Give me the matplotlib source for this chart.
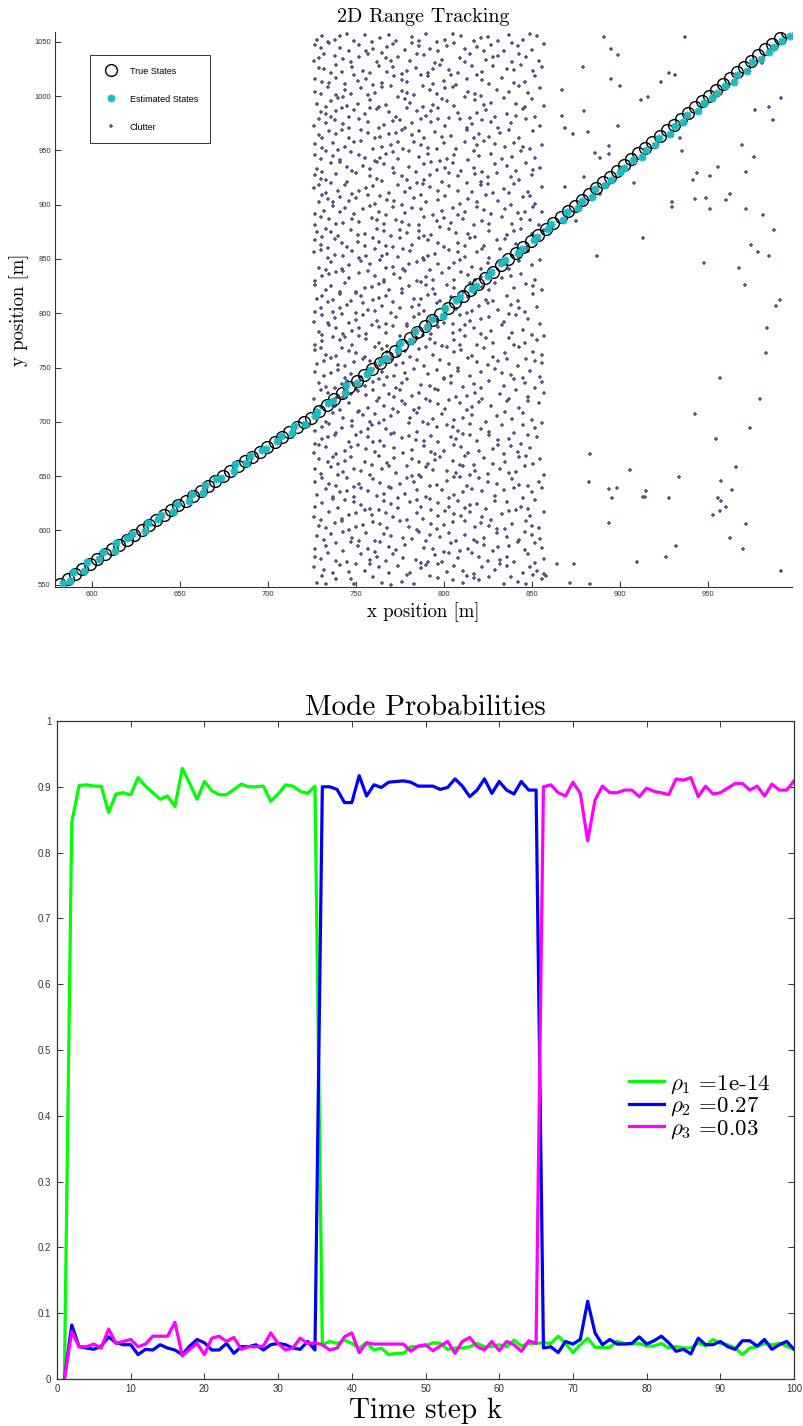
import numpy as np
import matplotlib.pyplot as plt
from matplotlib.ticker import MultipleLocator

# Estilo general
plt.rcParams['font.family'] = 'Liberation Sans'
plt.rcParams['mathtext.fontset'] = 'cm'
plt.rcParams['axes.unicode_minus'] = False
SERIF = 'cmr10'

# ---- datos: seguimiento 2D (x, y en metros) ----
true_pts = [
    (582.0, 551.0), (586.2, 555.5), (590.4, 560.0), (594.6, 564.5), (598.8, 569.0),
    (603.0, 573.5), (607.2, 578.0), (611.4, 582.5), (615.6, 587.0), (619.8, 591.5),
    (624.0, 596.0), (628.2, 600.5), (632.4, 605.0), (636.6, 609.5), (640.8, 614.0),
    (645.0, 618.5), (649.2, 623.0), (653.4, 627.5), (657.6, 632.0), (661.8, 636.5),
    (666.0, 641.0), (670.2, 645.5), (674.4, 650.0), (678.6, 654.5), (682.8, 659.0),
    (687.0, 663.5), (691.2, 668.0), (695.4, 672.5), (699.6, 677.0), (703.8, 681.5),
    (708.0, 686.0), (712.2, 690.5), (716.4, 695.0), (720.6, 699.5), (724.8, 704.0),
    (729.1, 709.6), (733.4, 715.2), (737.7, 720.8), (742.0, 726.4), (746.3, 732.0),
    (750.6, 737.6), (754.9, 743.2), (759.2, 748.8), (763.5, 754.4), (767.8, 760.0),
    (772.1, 765.6), (776.4, 771.2), (780.7, 776.8), (785.0, 782.4), (789.3, 788.0),
    (793.6, 793.6), (797.9, 799.2), (802.2, 804.8), (806.5, 810.4), (810.8, 816.0),
    (815.1, 821.6), (819.4, 827.2), (823.7, 832.8), (828.0, 838.4), (832.3, 844.0),
    (836.6, 849.6), (840.9, 855.2), (845.2, 860.8), (849.5, 866.4), (853.8, 872.0),
    (858.1, 877.6), (862.4, 883.2), (866.4, 888.5), (870.5, 893.9), (874.5, 899.2),
    (878.5, 904.5), (882.5, 909.8), (886.5, 915.2), (890.5, 920.5), (894.6, 925.8),
    (898.6, 931.1), (902.6, 936.5), (906.6, 941.8), (910.6, 947.1), (914.6, 952.4),
    (918.6, 957.8), (922.7, 963.1), (926.7, 968.4), (930.7, 973.7), (934.7, 979.1),
    (938.7, 984.4), (942.7, 989.7), (946.8, 995.0), (950.8, 1000.4), (954.8, 1005.7),
    (958.8, 1011.0), (962.8, 1016.3), (966.8, 1021.7), (970.9, 1027.0), (974.9, 1032.3),
    (978.9, 1037.6), (982.9, 1043.0), (986.9, 1048.3), (990.9, 1053.6), (995.0, 1059.0),
]
# error de la estimacion respecto al estado verdadero (dx, dy)
est_err = [
    (1.8, 0.6), (1.5, -2.0), (-1.2, 1.4), (0.8, -1.6), (-1.5, 1.8), (1.0, 0.5), (-0.8, 1.9), (1.6, -1.1), (-1.9, 1.2), (0.4, 1.7),
    (-1.3, 0.9), (1.7, -0.6), (-0.6, 2.0), (1.2, 1.1), (-1.8, 0.4), (0.9, -1.7), (-1.1, 1.5), (2.0, -0.8), (-0.5, 1.3), (1.4, -1.9),
    (-1.7, 0.7), (0.6, 1.6), (-1.0, -1.4), (1.9, 0.3), (-1.4, 1.8), (0.7, -1.2), (-1.6, 0.5), (1.1, 1.9), (-0.9, -1.6), (1.5, 0.8),
    (-0.7, 1.4), (1.3, -0.9), (-1.5, 1.1), (0.5, -1.8), (1.8, 1.2), (-1.2, -0.5), (0.9, 1.7), (-0.4, -1.3), (1.6, 0.6), (-1.8, 1.5),
    (0.3, -1.6), (1.2, 1.0), (-1.4, -0.7), (0.8, 1.8), (-0.9, -1.2), (1.7, 0.4), (-1.1, 1.6), (0.6, -1.9), (-1.6, 0.9), (1.4, -0.4),
    (-0.5, 1.5), (1.9, -1.3), (-1.3, 0.2), (0.7, 1.7), (-1.7, -1.0), (1.0, 0.8), (-0.8, -1.8), (1.5, 1.3), (-1.2, -0.6), (0.4, 1.9),
    (-1.9, -0.9), (1.3, 0.7), (-0.6, -1.5), (1.8, 1.0), (-1.0, -1.7), (0.9, 0.3), (-1.5, -1.4), (1.2, -2.2), (-0.3, -0.8), (1.6, -2.5),
    (0.2, -1.2), (1.9, -2.8), (-0.7, -0.9), (1.4, -2.4), (0.5, -3.0), (1.7, -1.1), (-0.4, -2.6), (1.1, -0.7), (2.0, -3.2), (0.3, -1.9),
    (1.5, -2.7), (-0.6, -1.3), (1.8, -3.1), (0.8, -0.9), (1.3, -2.9), (-0.2, -2.1), (1.6, -3.4), (0.9, -1.0), (1.9, -2.6), (0.4, -3.3),
    (1.2, -1.5), (2.1, -3.0), (0.1, -2.2), (1.7, -3.6), (0.6, -1.4), (1.4, -3.1), (2.2, -2.5), (0.7, -3.5), (1.5, -2.8), (2.0, -3.8),
]

clutter_pts = [
    (728, 552), (731, 558), (747, 555), (749, 551), (760, 557), (776, 553), (779, 559), (783, 551), (797, 556), (811, 552), (813, 558), (820, 554), (834, 551), (838, 557), (842, 553), (851, 559), (856, 555), (765, 552),
    (726, 566), (737, 561), (741, 568), (755, 563), (758, 569), (769, 561), (787, 565), (790, 568), (802, 562), (806, 567), (817, 560), (829, 564), (832, 569), (845, 561), (849, 566), (853, 563), (774, 567), (822, 566),
    (730, 574), (734, 579), (745, 571), (762, 576), (767, 572), (771, 578), (784, 573), (795, 577), (799, 571), (808, 575), (816, 579), (825, 572), (836, 576), (840, 571), (848, 578), (857, 574), (753, 578), (791, 571),
    (727, 583), (739, 588), (743, 581), (751, 586), (764, 589), (773, 582), (778, 587), (789, 584), (800, 580), (804, 588), (814, 583), (819, 589), (828, 581), (837, 586), (846, 582), (852, 588), (757, 583), (831, 585),
    (732, 591), (736, 597), (748, 593), (756, 598), (761, 590), (770, 595), (782, 592), (786, 599), (798, 594), (807, 590), (812, 596), (823, 593), (830, 598), (843, 591), (850, 596), (855, 592), (743, 599), (792, 596),
    (729, 604), (738, 607), (746, 600), (754, 605), (768, 602), (775, 609), (780, 603), (793, 606), (796, 601), (805, 608), (818, 603), (821, 607), (835, 601), (839, 606), (847, 609), (854, 602), (760, 608), (826, 604),
    (726, 612), (735, 617), (742, 611), (759, 614), (763, 619), (771, 612), (785, 616), (788, 611), (801, 618), (810, 613), (815, 617), (827, 610), (833, 615), (841, 619), (849, 613), (857, 617), (750, 616), (797, 613),
    (731, 625), (740, 621), (744, 628), (753, 623), (766, 627), (774, 621), (781, 626), (792, 629), (803, 622), (808, 627), (819, 624), (824, 620), (836, 626), (844, 622), (852, 628), (737, 629), (787, 622), (812, 621),
    (728, 633), (733, 638), (749, 631), (757, 636), (762, 632), (770, 639), (778, 634), (790, 631), (799, 637), (806, 633), (816, 638), (829, 632), (834, 637), (845, 630), (850, 635), (856, 639), (741, 635), (822, 636),
    (727, 645), (739, 641), (745, 648), (752, 643), (760, 647), (769, 640), (783, 645), (787, 649), (796, 642), (802, 646), (813, 641), (820, 648), (830, 643), (839, 647), (848, 641), (854, 645), (775, 643), (809, 649),
    (730, 652), (736, 658), (743, 654), (758, 651), (765, 657), (773, 653), (779, 659), (786, 651), (794, 656), (807, 653), (811, 659), (825, 652), (832, 657), (841, 654), (846, 659), (857, 651), (749, 657), (818, 655),
    (729, 666), (740, 661), (747, 668), (755, 663), (763, 669), (768, 662), (782, 666), (791, 661), (798, 668), (805, 664), (817, 660), (823, 667), (835, 663), (843, 668), (851, 661), (855, 666), (734, 663), (812, 669),
    (726, 671), (733, 677), (744, 673), (751, 679), (761, 672), (772, 676), (777, 671), (789, 678), (800, 673), (810, 677), (814, 671), (828, 675), (831, 679), (842, 672), (849, 676), (756, 675), (795, 670), (838, 678),
    (731, 684), (738, 688), (746, 681), (757, 686), (764, 682), (770, 689), (784, 683), (793, 687), (797, 681), (804, 686), (819, 682), (826, 688), (837, 684), (844, 680), (853, 686), (776, 685), (811, 689), (848, 688),
    (727, 692), (735, 698), (742, 694), (753, 691), (759, 697), (767, 693), (780, 699), (785, 691), (796, 695), (808, 692), (815, 698), (821, 693), (833, 697), (840, 690), (852, 694), (856, 699), (748, 696), (802, 697),
    (728, 703), (737, 708), (748, 701), (754, 706), (766, 702), (774, 709), (781, 704), (788, 700), (799, 707), (806, 702), (816, 706), (824, 700), (830, 705), (845, 708), (850, 702), (733, 700), (761, 707), (839, 703),
    (730, 714), (741, 711), (746, 717), (757, 713), (762, 719), (771, 712), (778, 716), (792, 719), (801, 712), (809, 717), (813, 711), (827, 715), (836, 719), (843, 713), (854, 717), (735, 718), (786, 713), (820, 718),
    (726, 721), (734, 727), (743, 723), (751, 728), (763, 722), (769, 726), (782, 724), (790, 721), (797, 729), (807, 723), (818, 727), (822, 721), (832, 726), (841, 729), (848, 723), (857, 727), (756, 725), (775, 729),
    (729, 736), (738, 731), (745, 738), (755, 733), (760, 737), (773, 731), (779, 739), (787, 734), (795, 730), (804, 736), (811, 732), (826, 738), (834, 733), (846, 736), (852, 731), (766, 734), (817, 735), (840, 739),
    (732, 742), (740, 748), (747, 744), (753, 741), (765, 746), (772, 742), (783, 749), (791, 744), (800, 740), (808, 747), (815, 742), (821, 746), (829, 749), (838, 743), (849, 747), (855, 741), (727, 746), (760, 749),
    (728, 753), (736, 759), (744, 751), (758, 756), (764, 752), (770, 758), (777, 754), (789, 751), (798, 757), (803, 753), (814, 759), (825, 752), (831, 756), (842, 751), (847, 758), (856, 754), (749, 755), (819, 755),
    (727, 766), (739, 761), (742, 768), (750, 763), (761, 769), (768, 764), (781, 760), (786, 767), (794, 762), (810, 766), (816, 761), (823, 768), (835, 763), (843, 769), (851, 764), (733, 762), (774, 762), (802, 769),
    (731, 774), (737, 778), (748, 771), (756, 776), (763, 773), (775, 779), (780, 772), (792, 776), (799, 770), (806, 775), (812, 779), (828, 773), (837, 777), (840, 771), (853, 775), (857, 779), (744, 778), (819, 771),
    (729, 783), (735, 789), (743, 781), (752, 786), (767, 782), (771, 788), (784, 784), (788, 780), (797, 787), (805, 782), (817, 786), (821, 781), (833, 789), (845, 785), (850, 780), (759, 789), (812, 789), (839, 782),
    (726, 792), (738, 796), (746, 791), (754, 798), (762, 793), (773, 797), (779, 790), (793, 795), (800, 791), (809, 798), (815, 793), (826, 797), (834, 792), (841, 798), (848, 795), (855, 790), (731, 798), (786, 799),
    (730, 805), (737, 801), (745, 808), (757, 803), (765, 807), (770, 800), (782, 806), (789, 802), (796, 809), (807, 804), (813, 800), (820, 807), (831, 803), (838, 808), (846, 801), (853, 806), (750, 800), (825, 809),
    (728, 813), (741, 818), (747, 811), (753, 816), (760, 812), (776, 819), (783, 813), (791, 817), (798, 811), (804, 815), (818, 819), (824, 812), (836, 816), (842, 811), (851, 818), (734, 810), (767, 816), (810, 810),
    (727, 826), (733, 821), (744, 828), (755, 823), (763, 827), (769, 821), (780, 825), (787, 829), (794, 822), (802, 826), (811, 820), (822, 824), (829, 828), (840, 823), (847, 827), (856, 821), (750, 820), (815, 828),
    (731, 834), (739, 838), (746, 832), (752, 837), (766, 831), (772, 836), (778, 839), (790, 833), (799, 837), (806, 831), (814, 835), (827, 839), (833, 832), (844, 836), (852, 831), (757, 839), (785, 830), (821, 833),
    (729, 842), (736, 847), (742, 841), (758, 845), (764, 849), (771, 843), (785, 847), (792, 840), (797, 845), (809, 849), (816, 843), (825, 846), (837, 841), (843, 848), (850, 844), (855, 849), (777, 841), (803, 842),
    (726, 856), (734, 851), (748, 857), (756, 853), (761, 859), (774, 852), (781, 857), (788, 851), (795, 855), (803, 858), (812, 852), (819, 856), (832, 859), (839, 853), (848, 857), (743, 853), (768, 855), (826, 851),
    (730, 863), (738, 868), (745, 861), (751, 866), (767, 862), (775, 869), (782, 863), (791, 867), (800, 861), (808, 865), (815, 869), (823, 862), (830, 867), (841, 864), (853, 869), (734, 860), (760, 869), (847, 860),
    (728, 875), (740, 871), (747, 877), (755, 873), (762, 878), (770, 871), (786, 876), (793, 872), (798, 879), (807, 874), (818, 870), (826, 876), (836, 872), (844, 878), (850, 873), (857, 877), (733, 878), (779, 874),
    (727, 881), (735, 887), (743, 883), (759, 888), (766, 882), (773, 886), (780, 881), (789, 889), (804, 883), (811, 887), (817, 881), (822, 885), (833, 889), (839, 882), (849, 886), (752, 884), (796, 885), (854, 881),
    (732, 894), (737, 899), (749, 891), (754, 896), (763, 893), (771, 898), (778, 892), (787, 896), (794, 890), (805, 897), (812, 893), (827, 891), (835, 896), (842, 892), (851, 898), (856, 893), (744, 897), (819, 898),
    (729, 902), (741, 907), (746, 903), (757, 909), (768, 904), (776, 900), (783, 906), (790, 902), (801, 908), (809, 901), (814, 905), (824, 909), (831, 903), (845, 907), (852, 901), (734, 905), (761, 901), (838, 900),
    (726, 915), (733, 911), (744, 918), (752, 913), (760, 917), (769, 911), (781, 915), (788, 919), (797, 913), (803, 917), (816, 912), (821, 918), (834, 914), (840, 919), (848, 912), (856, 916), (774, 918), (828, 911),
    (730, 924), (739, 928), (745, 921), (758, 926), (765, 922), (772, 929), (779, 923), (792, 927), (799, 921), (808, 926), (813, 920), (825, 925), (830, 929), (843, 923), (850, 927), (736, 920), (785, 920), (818, 928),
    (728, 933), (736, 938), (748, 931), (754, 936), (762, 939), (771, 934), (784, 930), (789, 937), (796, 932), (805, 938), (817, 934), (822, 930), (836, 936), (841, 931), (847, 938), (855, 934), (741, 939), (810, 931),
    (727, 946), (741, 941), (747, 948), (755, 943), (767, 947), (774, 942), (780, 949), (786, 944), (798, 940), (806, 946), (814, 941), (827, 947), (833, 942), (844, 949), (852, 943), (733, 949), (761, 940), (820, 945),
    (731, 952), (737, 957), (744, 953), (753, 959), (760, 951), (770, 955), (783, 958), (791, 952), (800, 957), (807, 951), (819, 955), (823, 959), (835, 953), (840, 957), (849, 951), (856, 955), (777, 951), (812, 958),
    (729, 964), (735, 968), (746, 961), (757, 966), (764, 962), (776, 969), (782, 964), (789, 961), (795, 967), (804, 963), (813, 969), (826, 962), (832, 966), (843, 961), (851, 968), (742, 969), (769, 965), (820, 965),
    (726, 972), (738, 978), (743, 974), (752, 979), (766, 973), (771, 977), (778, 971), (793, 976), (801, 972), (809, 979), (816, 974), (822, 978), (831, 971), (838, 975), (847, 979), (855, 972), (733, 975), (787, 979),
    (730, 985), (736, 981), (749, 987), (755, 983), (762, 988), (773, 981), (785, 986), (790, 982), (797, 989), (808, 984), (815, 980), (824, 987), (836, 983), (845, 988), (852, 981), (742, 989), (779, 989), (829, 981),
    (728, 993), (740, 998), (745, 991), (758, 996), (767, 992), (774, 999), (781, 994), (788, 990), (799, 997), (806, 991), (818, 996), (823, 992), (834, 998), (841, 993), (850, 997), (857, 991), (733, 990), (812, 999),
    (727, 1004), (734, 1008), (747, 1002), (753, 1007), (761, 1003), (770, 1009), (783, 1001), (792, 1006), (796, 1002), (805, 1008), (814, 1004), (821, 1000), (830, 1006), (843, 1009), (848, 1003), (855, 1007), (739, 1001), (776, 1005),
    (731, 1013), (739, 1017), (744, 1011), (756, 1016), (765, 1012), (772, 1018), (779, 1013), (787, 1019), (800, 1014), (807, 1010), (813, 1016), (826, 1011), (833, 1017), (840, 1012), (852, 1018), (749, 1019), (794, 1011), (819, 1019),
    (729, 1026), (736, 1021), (748, 1027), (754, 1023), (763, 1028), (768, 1022), (784, 1026), (791, 1021), (798, 1029), (803, 1024), (816, 1028), (822, 1022), (836, 1025), (844, 1029), (851, 1023), (742, 1022), (776, 1020), (856, 1027),
    (726, 1032), (738, 1037), (743, 1034), (757, 1039), (762, 1031), (774, 1036), (781, 1032), (789, 1038), (795, 1030), (809, 1035), (815, 1039), (824, 1033), (831, 1037), (839, 1031), (847, 1036), (854, 1032), (732, 1039), (767, 1035),
    (730, 1044), (735, 1049), (746, 1041), (752, 1047), (760, 1043), (771, 1048), (778, 1042), (786, 1046), (797, 1041), (806, 1049), (812, 1043), (827, 1047), (834, 1041), (842, 1046), (850, 1042), (857, 1048), (765, 1040), (819, 1045),
    (728, 1052), (741, 1055), (749, 1051), (755, 1056), (764, 1053), (773, 1051), (782, 1054), (790, 1057), (801, 1052), (810, 1055), (817, 1051), (825, 1054), (837, 1056), (845, 1052), (853, 1055), (734, 1050), (796, 1050), (831, 1051),
    # segunda pasada por franjas
    (739, 555), (770, 550), (792, 558), (805, 554), (826, 557), (847, 551), (733, 551), (817, 556), (858, 558),
    (732, 564), (746, 562), (763, 566), (781, 561), (797, 569), (811, 563), (836, 567), (857, 560), (750, 569),
    (727, 576), (739, 572), (758, 573), (777, 575), (787, 570), (803, 579), (820, 576), (832, 573), (852, 570),
    (733, 586), (747, 589), (761, 580), (769, 585), (794, 583), (809, 581), (823, 587), (842, 589), (856, 584),
    (728, 595), (752, 590), (766, 597), (777, 593), (790, 590), (803, 598), (817, 591), (836, 594), (846, 599),
    (733, 602), (742, 609), (750, 603), (764, 606), (785, 600), (800, 605), (812, 609), (830, 601), (850, 604),
    (730, 610), (746, 614), (755, 619), (767, 616), (779, 610), (793, 619), (806, 615), (822, 612), (837, 618),
    (727, 622), (749, 626), (758, 620), (770, 624), (785, 628), (797, 625), (815, 623), (829, 627), (848, 620),
    (737, 631), (745, 636), (753, 639), (766, 634), (774, 630), (785, 637), (803, 630), (811, 635), (840, 639),
    (731, 648), (735, 643), (749, 640), (764, 644), (779, 648), (792, 641), (806, 649), (825, 645), (843, 642),
    (727, 657), (740, 651), (753, 655), (769, 659), (782, 650), (790, 658), (802, 655), (815, 651), (837, 653),
    (737, 668), (744, 664), (759, 660), (772, 667), (786, 663), (795, 665), (809, 660), (828, 661), (847, 669),
    (729, 679), (739, 670), (747, 677), (766, 678), (782, 674), (793, 672), (806, 679), (820, 673), (834, 670),
    (727, 680), (734, 686), (750, 688), (760, 681), (780, 687), (789, 682), (807, 684), (815, 688), (831, 683),
    (731, 695), (739, 690), (757, 693), (763, 699), (772, 690), (791, 698), (805, 695), (826, 691), (845, 697),
    (726, 707), (743, 704), (751, 709), (758, 700), (770, 705), (785, 708), (794, 703), (811, 704), (835, 709),
    (727, 711), (738, 715), (752, 710), (766, 715), (776, 719), (783, 711), (797, 716), (816, 714), (848, 719),
    (730, 729), (739, 722), (747, 726), (760, 729), (772, 723), (786, 727), (803, 720), (813, 724), (837, 721),
    (733, 732), (742, 735), (750, 730), (763, 739), (776, 736), (792, 733), (800, 739), (821, 731), (856, 737),
    (736, 745), (744, 740), (757, 748), (768, 741), (778, 745), (796, 748), (804, 742), (833, 745), (845, 740),
    (732, 756), (740, 752), (754, 758), (761, 754), (773, 752), (785, 757), (808, 750), (836, 758), (852, 756),
    (730, 768), (746, 765), (755, 760), (765, 767), (778, 765), (790, 769), (806, 764), (828, 760), (856, 762),
    (727, 771), (741, 775), (752, 779), (768, 770), (785, 777), (795, 773), (809, 771), (824, 777), (846, 773),
    (731, 780), (739, 786), (748, 784), (756, 781), (763, 787), (779, 788), (793, 781), (809, 785), (827, 784),
    (734, 791), (742, 799), (750, 794), (767, 790), (783, 797), (796, 793), (805, 790), (821, 795), (837, 799),
    (727, 801), (741, 805), (754, 809), (761, 802), (775, 805), (786, 808), (800, 804), (816, 802), (843, 805),
    (731, 816), (737, 812), (750, 819), (763, 814), (771, 810), (787, 813), (795, 818), (814, 815), (828, 811),
    (736, 825), (741, 820), (759, 824), (766, 829), (776, 822), (790, 826), (806, 823), (826, 821), (851, 825),
    (727, 830), (735, 836), (743, 839), (761, 834), (775, 832), (794, 831), (810, 838), (818, 831), (838, 834),
    (733, 840), (746, 844), (753, 848), (767, 842), (780, 845), (789, 849), (806, 846), (821, 841), (832, 846),
    (730, 858), (738, 854), (752, 851), (765, 853), (777, 859), (791, 853), (808, 856), (822, 859), (843, 852),
    (727, 867), (742, 865), (755, 862), (763, 866), (771, 861), (786, 869), (797, 865), (812, 862), (835, 868),
    (731, 870), (736, 875), (751, 872), (766, 876), (775, 877), (789, 871), (803, 878), (814, 873), (840, 876),
    (730, 889), (739, 882), (748, 887), (762, 886), (776, 884), (786, 881), (800, 888), (826, 882), (844, 887),
    (727, 891), (741, 893), (758, 899), (767, 890), (782, 897), (799, 894), (808, 890), (823, 895), (846, 893),
    (731, 909), (737, 902), (750, 906), (764, 908), (772, 903), (787, 909), (797, 904), (819, 902), (849, 908),
    (729, 918), (740, 913), (748, 910), (756, 915), (778, 912), (792, 916), (808, 913), (825, 919), (837, 911),
    (727, 927), (733, 923), (750, 929), (762, 924), (776, 926), (789, 923), (803, 929), (821, 921), (838, 925),
    (731, 930), (745, 935), (758, 933), (766, 937), (780, 935), (793, 939), (801, 934), (829, 937), (851, 932),
    (730, 942), (737, 945), (752, 946), (764, 943), (771, 948), (791, 947), (802, 942), (817, 949), (839, 944),
    (727, 956), (740, 950), (749, 958), (765, 953), (774, 958), (787, 955), (796, 951), (829, 956), (845, 953),
    (731, 961), (739, 965), (753, 969), (761, 961), (773, 966), (786, 968), (799, 962), (817, 961), (837, 969),
    (729, 979), (746, 971), (757, 976), (763, 971), (775, 978), (782, 975), (797, 979), (813, 971), (827, 976),
    (733, 983), (739, 986), (746, 981), (758, 989), (769, 985), (793, 986), (803, 980), (819, 984), (841, 982),
    (736, 995), (743, 999), (751, 993), (763, 990), (778, 997), (794, 992), (802, 995), (827, 994), (846, 990),
    (730, 1002), (744, 1006), (757, 1001), (765, 1008), (779, 1003), (788, 1009), (801, 1007), (818, 1002), (837, 1004),
    (727, 1016), (735, 1012), (751, 1014), (760, 1010), (776, 1015), (791, 1018), (804, 1019), (822, 1015), (846, 1013),
    (732, 1025), (739, 1029), (758, 1021), (771, 1027), (779, 1023), (794, 1025), (808, 1021), (828, 1028), (840, 1024),
    (729, 1035), (747, 1031), (752, 1036), (770, 1032), (785, 1039), (799, 1033), (812, 1031), (828, 1036), (843, 1039),
    (727, 1047), (741, 1044), (756, 1041), (768, 1045), (782, 1049), (792, 1043), (802, 1046), (823, 1041), (839, 1049),
    (731, 1055), (738, 1052), (745, 1057), (759, 1050), (769, 1056), (786, 1051), (805, 1057), (821, 1053), (849, 1057),
    # zona dispersa a la derecha
    (864.5, 569), (874, 569), (872, 551.6), (883, 551), (882.7, 644.7), (894, 638), (898.6, 639.5), (895.8, 630),
    (894, 607), (909.7, 570.7), (913.4, 631), (914.6, 631), (914.8, 636), (928, 630), (926.3, 576), (932, 586),
    (957.7, 645.6), (964, 637), (956, 630), (957.4, 627), (960.2, 622), (957, 618), (952.8, 614), (971.6, 605.6),
    (962.7, 593), (970.2, 583), (992, 562.3),
    (971, 826), (991, 812), (989, 807), (968, 842), (984, 786), (983, 763), (957, 740), (948, 846),
    (980, 721), (955, 684), (966, 658), (906, 656), (934, 649), (883, 670), (974, 694), (943, 707),
    (891.3, 1054), (937, 1054), (895, 1043), (899.2, 1037.7), (879, 1026.6), (928.2, 1021), (931.6, 1019), (895, 1015.5),
    (900.3, 1009), (923.5, 1012.7), (867, 1006), (912, 996.6), (916.3, 999), (880, 986.5), (867, 982), (869, 971),
    (873.3, 964.8), (881.8, 966.7), (899, 972), (991.8, 998), (985, 990), (977, 986.7), (987, 978), (934.4, 961.4),
    (935.4, 949.4), (894, 954), (894, 946.6), (886, 947.5), (889, 943), (969.3, 955), (976.5, 943.5), (880, 925.6),
    (868.8, 916), (908, 919.7), (888.8, 910), (944, 929), (941.6, 922.9), (951.3, 926.2), (955.9, 934.3), (971.6, 930.3),
    (980.9, 1030.6), (962.7, 910), (960.6, 904), (949, 906), (942.8, 905.5), (951.3, 896), (971.8, 895.6), (929.7, 902),
    (929.7, 897.5), (981.6, 890.7), (875, 885.2), (987.8, 876.6), (913.4, 869.4), (974.4, 863), (978.8, 856.5), (985, 853),
    (887, 852.5),
]

# ---- datos: probabilidades de modo ----
steps = list(range(1, 101))
prob_mode1 = [
    0.0, 0.846, 0.902, 0.903, 0.901, 0.901, 0.861, 0.889, 0.891, 0.888,
    0.914, 0.901, 0.891, 0.881, 0.886, 0.870, 0.928, 0.905, 0.881, 0.908,
    0.894, 0.888, 0.888, 0.896, 0.904, 0.900, 0.900, 0.901, 0.878, 0.889,
    0.903, 0.901, 0.893, 0.890, 0.901,
    0.052, 0.057, 0.054, 0.059, 0.054, 0.047, 0.055, 0.044, 0.047, 0.037,
    0.039, 0.039, 0.049, 0.049, 0.050,
    0.055, 0.054, 0.045, 0.047, 0.047, 0.049, 0.054, 0.049, 0.049, 0.052,
    0.049, 0.059, 0.050, 0.054, 0.054, 0.055, 0.054, 0.065, 0.054, 0.040,
    0.052, 0.062, 0.048, 0.048, 0.048, 0.057, 0.054, 0.053, 0.054, 0.050,
    0.050, 0.054, 0.047, 0.049, 0.047, 0.047, 0.055, 0.050, 0.060, 0.054,
    0.052, 0.047, 0.037, 0.047, 0.049, 0.054, 0.052, 0.054, 0.050, 0.045,
]
prob_mode2 = [
    0.0, 0.082, 0.049, 0.047, 0.045, 0.050, 0.064, 0.055, 0.052, 0.052,
    0.037, 0.045, 0.044, 0.052, 0.047, 0.044, 0.037, 0.050, 0.060, 0.055,
    0.044, 0.044, 0.054, 0.039, 0.049, 0.049, 0.052, 0.044, 0.052, 0.054,
    0.052, 0.047, 0.045, 0.057, 0.044,
    0.900, 0.900, 0.896, 0.876, 0.876, 0.917, 0.886, 0.903, 0.899, 0.907,
    0.908, 0.909, 0.907, 0.901, 0.901,
    0.901, 0.896, 0.899, 0.912, 0.901, 0.885, 0.895, 0.912, 0.890, 0.908,
    0.895, 0.889, 0.908, 0.895, 0.895,
    0.047, 0.049, 0.040, 0.057, 0.053,
    0.060, 0.118, 0.070, 0.052, 0.060, 0.053, 0.053, 0.054, 0.064, 0.053,
    0.058, 0.065, 0.055, 0.042, 0.045, 0.038, 0.062, 0.052, 0.052, 0.057,
    0.049, 0.045, 0.058, 0.058, 0.050, 0.060, 0.045, 0.052, 0.057, 0.045,
]
prob_mode3 = [
    0.0, 0.072, 0.049, 0.049, 0.053, 0.047, 0.076, 0.054, 0.057, 0.060,
    0.049, 0.053, 0.065, 0.065, 0.065, 0.086, 0.035, 0.045, 0.054, 0.037,
    0.062, 0.065, 0.057, 0.063, 0.045, 0.049, 0.049, 0.050, 0.070, 0.054,
    0.044, 0.047, 0.062, 0.054, 0.055, 0.052, 0.044, 0.047, 0.064, 0.070,
    0.040, 0.055, 0.053, 0.053, 0.053, 0.053, 0.053, 0.042, 0.050, 0.052,
    0.043, 0.050, 0.057, 0.039, 0.057, 0.063, 0.049, 0.044, 0.057, 0.043,
    0.057, 0.052, 0.042, 0.058, 0.054,
    0.900, 0.903, 0.891, 0.886, 0.907,
    0.890, 0.818, 0.880, 0.901, 0.891, 0.891, 0.895, 0.895, 0.885, 0.898,
    0.893, 0.891, 0.888, 0.912, 0.910, 0.914, 0.885, 0.901, 0.889, 0.891,
    0.898, 0.905, 0.905, 0.895, 0.901, 0.886, 0.904, 0.895, 0.895, 0.909,
]
mode_labels = [r'$\rho_1$ =1e-14', r'$\rho_2$ =0.27', r'$\rho_3$ =0.03']
mode_colors = ['#00ff00', '#0000ff', '#ff00ff']


def draw_tracking(ax):
    """Panel superior: estados verdaderos, estimados y clutter"""
    t = np.array(true_pts)
    e = t + np.array(est_err)
    c = np.array(clutter_pts)

    h_clut, = ax.plot(c[:, 0], c[:, 1], ls='none', marker='+', color='#55557f',
                      ms=3.0, mew=1.1, zorder=1)
    h_true, = ax.plot(t[:, 0], t[:, 1], ls='none', marker='o', mfc='none',
                      mec='black', ms=8.5, mew=1.0, zorder=2)
    h_est, = ax.plot(e[:, 0], e[:, 1], ls='none', marker=(8, 2, 0),
                     color='#1fb9c2', ms=5.5, mew=1.2, zorder=3)

    ax.set_xlim(579, 998)
    ax.set_ylim(548, 1059)
    ax.set_xticks(np.arange(600, 951, 50))
    ax.set_yticks(np.arange(550, 1051, 50))
    ax.spines[['top', 'right']].set_visible(False)
    for s in ('left', 'bottom'):
        ax.spines[s].set_color('#333333')
        ax.spines[s].set_linewidth(0.8)
    ax.tick_params(direction='in', length=4, width=0.7, colors='#333333',
                   labelsize=5.5, pad=3)

    ax.set_title('2D Range Tracking', family=SERIF, fontsize=14.5, pad=7)
    ax.set_xlabel('x position [m]', family=SERIF, fontsize=13.5, labelpad=3)
    ax.set_ylabel('y position [m]', family=SERIF, fontsize=13.5, labelpad=4)

    leg = ax.legend([h_true, h_est, h_clut],
                    ['True States', 'Estimated States', 'Clutter'],
                    loc='upper left', bbox_to_anchor=(0.0475, 0.9586),
                    borderaxespad=0, fontsize=6.5, labelspacing=2.1,
                    handletextpad=1.1, borderpad=1.3, fancybox=False,
                    frameon=True, edgecolor='black')
    leg.get_frame().set_linewidth(0.7)


def draw_modes(ax):
    """Panel inferior: probabilidades de cada modo"""
    for probs, lab, col in zip([prob_mode1, prob_mode2, prob_mode3],
                               mode_labels, mode_colors):
        ax.plot(steps, probs, color=col, lw=2.3, label=lab)

    ax.set_xlim(0, 100)
    ax.set_ylim(0, 1)
    ax.xaxis.set_major_locator(MultipleLocator(10))
    ax.yaxis.set_major_locator(MultipleLocator(0.1))
    ax.yaxis.set_major_formatter(plt.FormatStrFormatter('%g'))
    for s in ax.spines.values():
        s.set_color('#333333')
        s.set_linewidth(0.9)
    ax.tick_params(direction='in', length=4.5, width=0.7, colors='#333333',
                   labelsize=7, top=True, right=True, pad=4)

    ax.set_title('Mode Probabilities', family=SERIF, fontsize=21, pad=4)
    ax.set_xlabel('Time step k', family=SERIF, fontsize=21, labelpad=2)

    ax.legend(loc='upper left', bbox_to_anchor=(0.776, 0.465), frameon=False,
              prop={'family': SERIF, 'size': 16.5}, handlelength=1.55,
              handletextpad=0.25, labelspacing=0.0, borderaxespad=0,
              borderpad=0)


def main():
    fig = plt.figure(figsize=(8.04, 14.26), dpi=100)
    ax_top = fig.add_axes([0.0684, 0.5884, 0.9167, 0.3892])
    ax_bot = fig.add_axes([0.0709, 0.0330, 0.9167, 0.4614])
    draw_tracking(ax_top)
    draw_modes(ax_bot)
    fig.savefig('out.png', dpi=100)
    plt.close(fig)


if __name__ == '__main__':
    main()
